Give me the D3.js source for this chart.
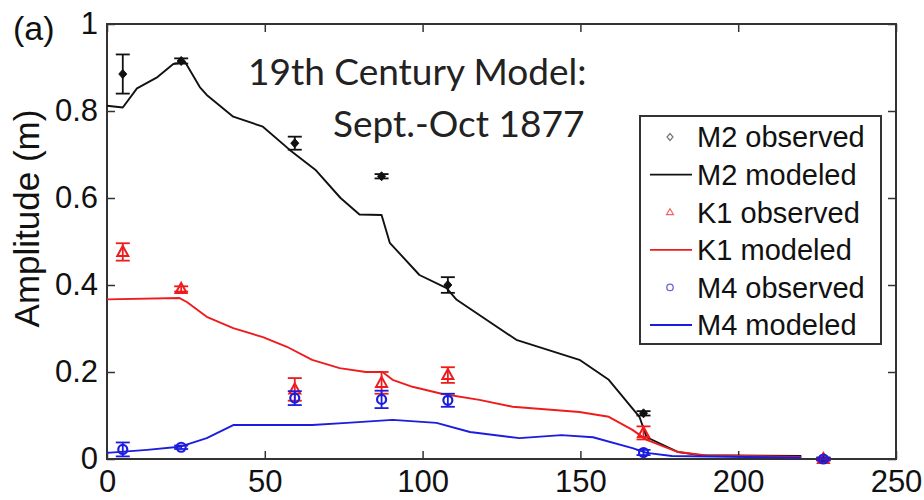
<!DOCTYPE html>
<html>
<head>
<meta charset="utf-8">
<script src="https://cdn.jsdelivr.net/npm/d3@7"></script>
<style>
  html, body { margin: 0; padding: 0; background: #fff; }
  svg { display: block; }
</style>
</head>
<body>
<svg id="chart" width="924" height="500"></svg>
<script>
// Axis ticks
const xTicks = [0, 50, 100, 150, 200, 250];
const yTicks = [0, 0.2, 0.4, 0.6, 0.8, 1];

// Tide-gauge stations (distance along river) and observed amplitudes (m)
const stations = [5, 23.5, 59.5, 87, 108, 170, 227];
const m2Obs = [0.885, 0.915, 0.726, 0.65, 0.40, 0.105, 0.0];
const m2Err = [0.045, 0.006, 0.015, 0.005, 0.018, 0.005, 0.003];
const k1Obs = [0.476, 0.391, 0.16, 0.175, 0.193, 0.06, 0.0];
const k1Err = [0.02, 0.006, 0.026, 0.025, 0.018, 0.015, 0.003];
const m4Obs = [0.022, 0.027, 0.14, 0.137, 0.135, 0.015, 0.0];
const m4Err = [0.016, 0.004, 0.016, 0.02, 0.015, 0.006, 0.003];

// Modeled amplitude profiles [distance, amplitude]
const m2Model = [[0,0.812],[5,0.808],[9.5,0.852],[16,0.878],[21,0.908],[24.7,0.913],[29.4,0.855],
  [31.6,0.837],[40,0.787],[49.4,0.764],[58,0.71],[66,0.665],[74,0.6],[80,0.562],[87,0.561],
  [89.6,0.497],[99,0.423],[107.6,0.393],[110.8,0.366],[129.7,0.274],[149.7,0.228],[159,0.182],
  [168.7,0.097],[171,0.05],[181,0.016],[187.7,0.009],[220,0.007]];
const k1Model = [[0,0.367],[23,0.37],[25.3,0.361],[31.6,0.327],[40,0.301],[49.4,0.28],[57,0.258],
  [65,0.228],[73.7,0.209],[82,0.2],[87.3,0.2],[90.5,0.182],[96.8,0.166],[106,0.15],[118,0.136],
  [128.5,0.12],[149.7,0.108],[159,0.097],[166.5,0.067],[171,0.044],[181,0.016],[190,0.008],[220,0.005]];
const m4Model = [[0,0.014],[12.7,0.021],[23,0.028],[31.6,0.048],[40,0.078],[65,0.078],[76,0.083],
  [90.5,0.09],[104.4,0.083],[115,0.062],[130.7,0.048],[144,0.055],[154,0.05],[166.5,0.025],
  [171,0.014],[179,0.007],[220,0.003]];

const seriesNames = ["M2 observed", "M2 modeled", "K1 observed", "K1 modeled", "M4 observed", "M4 modeled"];

const colors = { m2: "#111111", k1: "#ee1c1c", m4: "#1c1ce0" };

const svg = d3.select("#chart");
const plot = { left: 107, right: 896, top: 24, bottom: 459 };

const x = d3.scaleLinear().domain([0, 250]).range([plot.left, plot.right]);
const y = d3.scaleLinear().domain([0, 1]).range([plot.bottom, plot.top]);

const tickFont = "'Liberation Sans', Arial, Helvetica, sans-serif";

// Axes with inward ticks on all four sides
const axisStyle = g => {
  g.select(".domain").remove();
  g.selectAll(".tick line").attr("stroke", "#333").attr("stroke-width", 1.5);
  g.selectAll(".tick text").attr("font-family", tickFont).attr("font-size", 31).attr("fill", "#111");
};

svg.append("g").attr("transform", `translate(0,${plot.bottom})`)
  .call(d3.axisBottom(x).tickValues(xTicks).tickSize(-8).tickPadding(11).tickFormat(d3.format("d")))
  .call(axisStyle)
  .call(g => g.selectAll(".tick text").attr("dy", "0.71em"));

svg.append("g").attr("transform", `translate(0,${plot.top})`)
  .call(d3.axisTop(x).tickValues(xTicks).tickSize(-8).tickFormat(""))
  .call(axisStyle);

svg.append("g").attr("transform", `translate(${plot.left},0)`)
  .call(d3.axisLeft(y).tickValues(yTicks).tickSize(-8).tickPadding(9)
    .tickFormat(d => d === 0 || d === 1 ? d3.format("d")(d) : d3.format(".1f")(d)))
  .call(axisStyle);

svg.append("g").attr("transform", `translate(${plot.right},0)`)
  .call(d3.axisRight(y).tickValues(yTicks).tickSize(-8).tickFormat(""))
  .call(axisStyle);

// Plot frame
svg.append("rect")
  .attr("x", plot.left).attr("y", plot.top)
  .attr("width", plot.right - plot.left).attr("height", plot.bottom - plot.top)
  .attr("fill", "none").attr("stroke", "#333").attr("stroke-width", 2);

// Modeled lines
const line = d3.line().x(d => x(d[0])).y(d => y(d[1]));
[[m2Model, colors.m2], [k1Model, colors.k1], [m4Model, colors.m4]].forEach(([data, c]) => {
  svg.append("path").datum(data)
    .attr("d", line).attr("fill", "none")
    .attr("stroke", c).attr("stroke-width", 1.9).attr("stroke-linejoin", "round");
});

// Observations with error bars
const capHalf = 7;
function drawObs(values, errs, color, marker) {
  const g = svg.append("g");
  stations.forEach((s, i) => {
    const cx = x(s), top = y(values[i] + errs[i]), bot = y(values[i] - errs[i]);
    g.append("line").attr("x1", cx).attr("x2", cx).attr("y1", top).attr("y2", bot)
      .attr("stroke", color).attr("stroke-width", 1.8);
    [top, bot].forEach(yy => g.append("line")
      .attr("x1", cx - capHalf).attr("x2", cx + capHalf).attr("y1", yy).attr("y2", yy)
      .attr("stroke", color).attr("stroke-width", 1.8));
    marker(g, cx, y(values[i]), color);
  });
}
const diamond = (g, cx, cy, c) => g.append("path")
  .attr("d", `M${cx},${cy-4.5}L${cx+4},${cy}L${cx},${cy+4.5}L${cx-4},${cy}Z`).attr("fill", c).attr("stroke", c);
const triangle = (g, cx, cy, c) => g.append("path")
  .attr("d", `M${cx},${cy-6}L${cx+5.5},${cy+4}L${cx-5.5},${cy+4}Z`).attr("fill", "none").attr("stroke", c).attr("stroke-width", 2);
const circle = (g, cx, cy, c) => g.append("circle")
  .attr("cx", cx).attr("cy", cy).attr("r", 4.5).attr("fill", "none").attr("stroke", c).attr("stroke-width", 2.2);

drawObs(m2Obs, m2Err, colors.m2, diamond);
drawObs(k1Obs, k1Err, colors.k1, triangle);
drawObs(m4Obs, m4Err, colors.m4, circle);

// Panel label and y-axis title
svg.append("text").attr("x", 13).attr("y", 40)
  .attr("font-family", tickFont).attr("font-size", 34).attr("fill", "#111").text("(a)");

svg.append("text")
  .attr("transform", `translate(39,${(100 + 337) / 2}) rotate(-90)`)
  .attr("text-anchor", "middle")
  .attr("font-family", tickFont).attr("font-size", 35).attr("fill", "#111")
  .text("Amplitude (m)");

// Title
const titleFont = "Lato, 'Open Sans', sans-serif";
svg.append("text").attr("x", 248).attr("y", 85)
  .attr("font-family", titleFont).attr("font-size", 37).attr("fill", "#222")
  .text("19th Century Model:");
svg.append("text").attr("x", 333).attr("y", 137)
  .attr("font-family", titleFont).attr("font-size", 37).attr("fill", "#222")
  .text("Sept.-Oct 1877");

// Legend
const legend = svg.append("g");
legend.append("rect").attr("x", 640).attr("y", 116).attr("width", 241).attr("height", 228)
  .attr("fill", "#fff").attr("stroke", "#333").attr("stroke-width", 2);
const legendY = d3.scalePoint().domain(seriesNames).range([137, 325]);
const legendStyle = [
  { c: "#777", kind: "diamond" }, { c: colors.m2, kind: "line" },
  { c: "#e66", kind: "triangle" }, { c: colors.k1, kind: "line" },
  { c: "#66d", kind: "circle" }, { c: colors.m4, kind: "line" }
];
seriesNames.forEach((name, i) => {
  const ly = legendY(name), st = legendStyle[i];
  if (st.kind === "line") {
    legend.append("line").attr("x1", 650).attr("x2", 692).attr("y1", ly).attr("y2", ly)
      .attr("stroke", st.c).attr("stroke-width", 1.8);
  } else if (st.kind === "diamond") {
    legend.append("path").attr("d", `M670,${ly-3.5}L673,${ly}L670,${ly+3.5}L667,${ly}Z`)
      .attr("fill", "none").attr("stroke", st.c).attr("stroke-width", 1.2);
  } else if (st.kind === "triangle") {
    legend.append("path").attr("d", `M670,${ly-3.5}L673.5,${ly+2.5}L666.5,${ly+2.5}Z`)
      .attr("fill", "none").attr("stroke", st.c).attr("stroke-width", 1.2);
  } else {
    legend.append("circle").attr("cx", 670).attr("cy", ly).attr("r", 3.2)
      .attr("fill", "none").attr("stroke", st.c).attr("stroke-width", 1.3);
  }
  legend.append("text").attr("x", 697).attr("y", ly).attr("dy", "0.36em")
    .attr("font-family", tickFont).attr("font-size", 29).attr("fill", "#111").text(name);
});
</script>
</body>
</html>
